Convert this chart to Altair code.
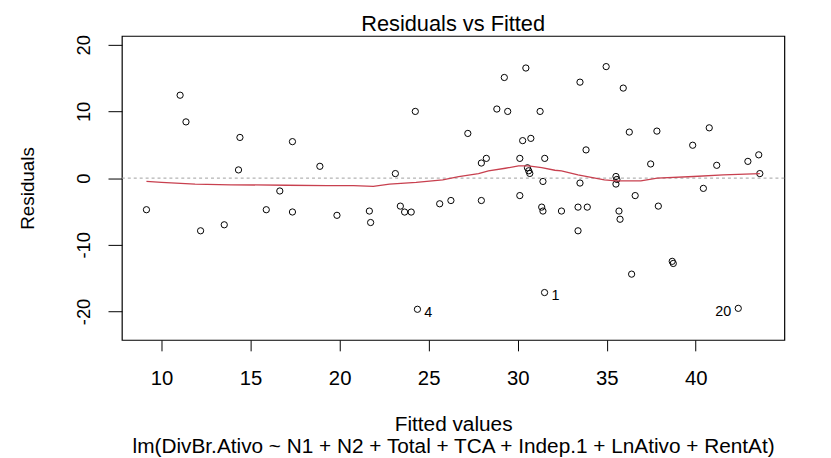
import altair as alt
import pandas as pd

# ---- data ----
fitted = [9.15, 11.04, 11.37, 12.19, 13.52, 14.40, 14.32, 15.88, 16.64, 17.35,
          17.35, 18.89, 19.85, 21.67, 21.74, 23.13, 23.41, 23.65, 24.02, 24.25,
          24.37, 25.62, 26.25, 27.20, 27.96, 28.24, 27.96, 28.83, 29.44, 29.25,
          30.46, 31.26, 30.28, 30.74, 30.12, 31.52, 30.55, 30.62, 30.68, 31.42,
          30.12, 31.35, 31.42, 31.51, 32.46, 33.39, 33.91, 33.39, 33.50, 33.84,
          33.50, 34.97, 35.93, 35.52, 35.57, 35.52, 35.69, 35.75, 36.27, 36.60,
          36.40, 37.82, 37.47, 37.90, 38.68, 38.74, 39.83, 40.76, 40.43, 41.18,
          42.39, 42.93, 43.54, 43.60]
resid = [-4.74, 12.43, 8.43, -7.90, -7.00, 6.10, 1.23, -4.74, -1.93, 5.47,
         -5.08, 1.77, -5.58, -4.94, -6.66, 0.68, -4.20, -5.09, -5.09, 10.00,
         -19.67, -3.85, -3.36, 6.70, 2.26, 2.96, -3.36, 10.36, 10.00, 15.09,
         16.51, 10.00, 5.62, 5.96, 2.96, 2.96, 1.55, 1.10, 0.70, -0.50,
         -2.62, -4.35, -4.94, -17.16, -4.94, -4.35, -4.35, -7.90, -0.74, 4.23,
         14.39, 16.72, 13.50, 0.24, -0.20, -0.89, -4.94, -6.17, 6.90, -2.62,
         -14.40, 7.05, 2.12, -4.20, -12.48, -12.80, 4.93, 7.54, -1.54, 1.92,
         -19.53, 2.51, 3.49, 0.68]

smooth_x = [9.15, 10.0, 11.88, 13.9, 17.0, 19.3, 20.78, 21.89, 22.8, 24.3,
            25.79, 26.69, 27.8, 28.36, 29.31, 30.05, 30.6, 31.35, 32.09, 32.46,
            33.39, 34.87, 35.52, 36.92, 37.84, 39.88, 41.55, 43.6]
smooth_y = [-0.5, -0.65, -0.9, -1.0, -1.07, -1.14, -1.14, -1.24, -0.89, -0.65,
            -0.25, 0.24, 0.68, 1.08, 1.48, 1.82, 1.82, 1.57, 1.18, 1.08,
            0.49, -0.25, -0.4, -0.4, 0.0, 0.24, 0.49, 0.68]

right_ids = ["4", "1"]
right_x = [24.37, 31.51]
right_y = [-19.67, -17.16]
left_ids = ["20"]
left_x = [42.39]
left_y = [-19.53]

x_ticks = [10, 15, 20, 25, 30, 35, 40]
y_ticks = [-20, -10, 0, 10, 20]

main_title = ["Residuals vs Fitted"]
caption = "lm(DivBr.Ativo ~ N1 + N2 + Total + TCA + Indep.1 + LnAtivo + RentAt)"

FONT = "Liberation Sans"
W, H = 669, 307

df = pd.DataFrame({"fitted": fitted, "resid": resid})
sm = pd.DataFrame({"fitted": smooth_x, "resid": smooth_y})
zero = pd.DataFrame({"resid": [0]})
lab_r = pd.DataFrame({"fitted": right_x, "resid": right_y, "id": right_ids})
lab_l = pd.DataFrame({"fitted": left_x, "resid": left_y, "id": left_ids})
ttl = pd.DataFrame({"t": main_title})

xs = alt.Scale(domain=[7.77, 44.98], nice=False, zero=False)
ys = alt.Scale(domain=[-24.27, 21.32], nice=False, zero=False)

xax = alt.Axis(values=x_ticks, domain=False, grid=False, tickSize=11,
               tickColor="black", tickWidth=1, labelFont=FONT, labelFontSize=20.5,
               labelColor="black", labelBaseline="top", labelPadding=18.3,
               labelFlush=False, labelOverlap=False,
               labelExpr="'' + datum.value",
               title=["Fitted values", caption], titleFont=FONT, titleFontSize=21,
               titleFontWeight="normal", titleColor="black", titleBaseline="top",
               titleAlign="center", titleX=W / 2, titleY=74.5, titleLineHeight=22.5)
yax = alt.Axis(values=y_ticks, domain=False, grid=False, tickSize=14,
               tickColor="black", tickWidth=1, labelFont=FONT, labelFontSize=18.5,
               labelColor="black", labelAngle=270, labelAlign="center",
               labelBaseline="alphabetic", labelPadding=19, labelFlush=False,
               labelOverlap=False, labelExpr="'' + datum.value",
               title="Residuals", titleFont=FONT, titleFontSize=19,
               titleFontWeight="normal", titleColor="black", titleAngle=270,
               titleAlign="center", titleBaseline="alphabetic",
               titleX=-89.4, titleY=H / 2)

X = alt.X("fitted:Q", scale=xs, axis=xax)
Y = alt.Y("resid:Q", scale=ys, axis=yax)

points = alt.Chart(df).mark_point(shape="circle", filled=False, color="black",
                                  size=40, strokeWidth=1, opacity=1).encode(x=X, y=Y)

zline = alt.Chart(zero).mark_rule(color="#a0a0a0", strokeDash=[3, 3],
                                   strokeWidth=1).encode(y=Y)

smooth = alt.Chart(sm).mark_line(color="#c8404f", strokeWidth=1.3).encode(
    x=X, y=Y, order="fitted:Q")

txt_r = alt.Chart(lab_r).mark_text(align="left", baseline="middle", dx=7, dy=4,
                                   font=FONT, fontSize=14.5, color="black").encode(
    x=X, y=Y, text="id:N")
txt_l = alt.Chart(lab_l).mark_text(align="right", baseline="middle", dx=-7, dy=4,
                                   font=FONT, fontSize=14.5, color="black").encode(
    x=X, y=Y, text="id:N")

title_txt = alt.Chart(ttl).mark_text(align="center", baseline="alphabetic",
                                     font=FONT, fontSize=22, color="black").encode(
    x=alt.value(W / 2), y=alt.value(-5.4), text="t:N")

chart = alt.layer(points, zline, smooth, txt_r, txt_l, title_txt).properties(
    width=W, height=H,
    padding={"left": 115, "top": 26, "right": 39, "bottom": 118},
    autosize="none",
    background="white",
).configure_view(stroke="black", strokeWidth=1.2)

chart.save("out.html", embed_options={"renderer": "svg", "actions": False})
